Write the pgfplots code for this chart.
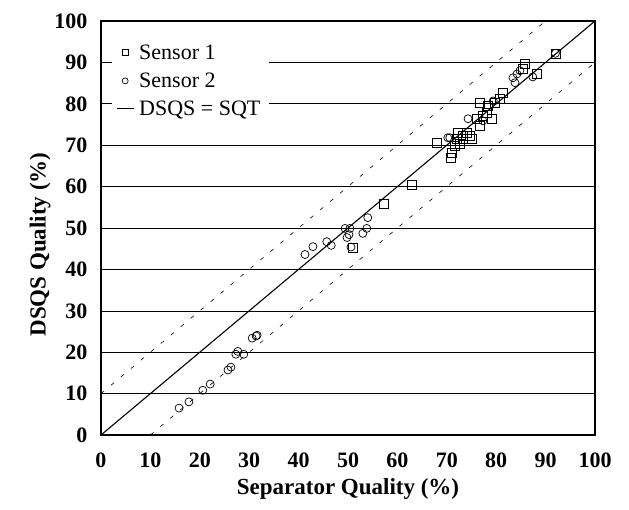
\documentclass[border=0pt]{standalone}
\usepackage{pgfplots}
\pgfplotsset{compat=1.18}
\usepackage{fontspec}
\setmainfont{Liberation Serif}

\pgfplotstableread{
x y
68.0 70.6
71.0 68.2
70.9 67.0
71.7 69.9
72.3 73.0
73.3 72.3
74.1 73.0
74.7 72.3
73.3 71.6
72.1 71.6
72.7 70.4
75.1 71.6
76.7 74.7
76.1 76.4
76.7 80.2
77.3 77.1
78.1 77.8
78.3 79.5
79.1 76.4
79.8 80.2
80.8 81.2
81.4 82.7
85.8 89.6
85.4 88.4
88.3 87.2
92.1 92.0
57.3 55.9
63.0 60.5
51.0 45.3
}\sensorone

\pgfplotstableread{
x y
15.8 6.5
17.8 8.0
20.6 10.8
22.1 12.3
25.7 15.7
26.3 16.4
27.3 19.5
27.7 20.2
28.9 19.5
30.6 23.4
31.4 23.9
31.6 24.1
41.3 43.6
42.9 45.5
45.7 46.7
46.6 45.8
49.4 49.9
50.4 49.9
49.8 47.7
50.2 48.4
50.6 45.4
53.0 48.7
53.8 49.9
54.0 52.5
70.2 71.8
70.6 71.8
74.3 76.4
77.3 75.9
79.4 80.7
83.4 86.3
84.2 87.2
84.8 88.0
83.8 85.1
87.4 86.5
92.0 92.2
}\sensortwo

\begin{document}
\begin{tikzpicture}
\begin{axis}[
  scale only axis,
  width=494pt, height=414pt,
  xmin=0, xmax=100, ymin=0, ymax=100,
  xtick={0,10,...,100}, ytick={0,10,...,100},
  major tick length=0pt,
  ymajorgrids=true,
  grid style={black, line width=0.6pt},
  axis line style={black, line width=1.1pt},
  /pgf/number format/assume math mode=true,
  ticklabel style={font=\bfseries\fontsize{22}{24}\selectfont},
  xticklabel style={yshift=-14pt},
  yticklabel style={xshift=-10pt},
  xlabel={\bfseries Separator Quality (\%)},
  ylabel={\bfseries DSQS Quality (\%)},
  label style={font=\bfseries\fontsize{23}{26}\selectfont},
  xlabel style={at={(axis description cs:0.5,-0.13)}, anchor=center},
  ylabel style={at={(axis description cs:-0.123,0.46)}, anchor=center},
  legend style={at={(0.022,0.96)}, anchor=north west, draw=none, fill=white,
                font=\fontsize{22}{24}\selectfont, row sep=8pt,
                inner xsep=4pt, inner ysep=5pt,
                nodes={inner xsep=5pt}},
  legend image post style={mark size=3pt},
  legend cell align=left,
  clip=false,
]
\addplot[only marks, mark=square, mark size=4.5pt, black, line width=0.8pt]
  table {\sensorone};
\addlegendentry{Sensor 1}
\addplot[only marks, mark=o, mark size=4pt, black, line width=0.7pt]
  table {\sensortwo};
\addlegendentry{Sensor 2}
\addplot[black, line width=1.1pt] coordinates {(0,0) (100,100)};
\addlegendentry{DSQS = SQT}
\addplot[black, line width=0.6pt, dash pattern=on 4pt off 9pt, forget plot]
  coordinates {(0,10) (90,100)};
\addplot[black, line width=0.6pt, dash pattern=on 4pt off 9pt, forget plot]
  coordinates {(10,0) (100,90)};
\end{axis}
\pgfresetboundingbox
\path ([xshift=-101pt,yshift=-74pt]current axis.south west)
  rectangle ([xshift=34pt,yshift=21pt]current axis.north east);
\end{tikzpicture}
\end{document}
